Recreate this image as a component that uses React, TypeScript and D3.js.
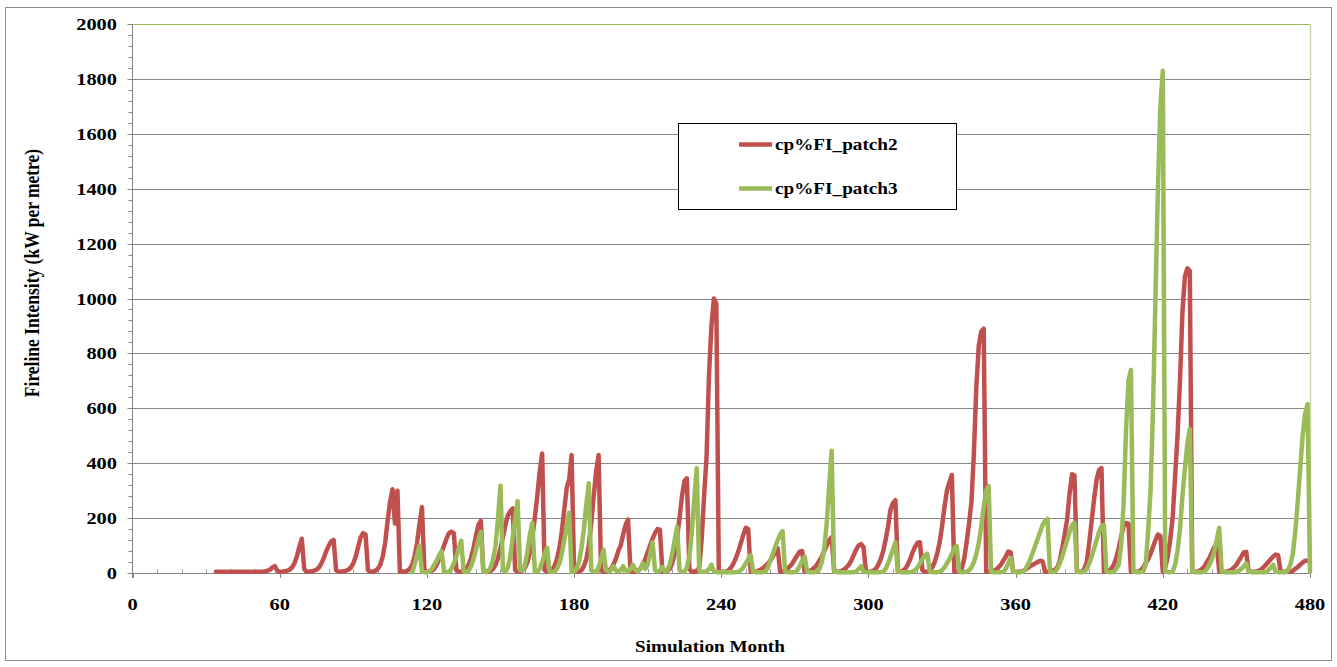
import React from "react";
import * as d3 from "d3";

// Monthly fireline intensity (kW per metre), one value per month from the start month.
const patch2Start = 34;
const patch2Values = [
  // 34–45
  5, 5, 5, 5, 5, 5, 5, 5, 5, 5, 5, 5,
  // 46–57
  5, 5, 5, 5, 5, 5, 5, 5, 6, 8, 12, 20,
  // 58–69
  25, 8, 5, 5, 6, 8, 12, 20, 35, 60, 95, 125,
  // 70–81
  15, 5, 5, 6, 8, 12, 20, 35, 55, 80, 100, 115,
  // 82–93
  120, 10, 5, 5, 6, 8, 12, 20, 35, 60, 95, 130,
  // 94–105
  145, 140, 10, 5, 5, 8, 15, 30, 60, 110, 190, 260,
  // 106–117
  305, 180, 300, 5, 5, 5, 8, 15, 30, 60, 110, 180,
  // 118–129
  240, 10, 5, 5, 8, 15, 30, 50, 75, 100, 125, 145,
  // 130–141
  150, 145, 10, 5, 5, 8, 15, 30, 55, 90, 135, 175,
  // 142–153
  190, 10, 5, 5, 8, 15, 30, 55, 90, 130, 175, 210,
  // 154–165
  225, 235, 10, 5, 5, 10, 20, 40, 75, 130, 200, 280,
  // 166–177
  370, 435, 10, 5, 5, 10, 25, 50, 90, 150, 230, 310,
  // 178–189
  340, 430, 10, 5, 5, 10, 25, 50, 100, 180, 280, 370,
  // 190–201
  430, 10, 5, 5, 8, 15, 30, 50, 80, 100, 140, 175,
  // 202–213
  195, 5, 5, 5, 8, 15, 30, 50, 75, 100, 125, 145,
  // 214–225
  160, 158, 5, 5, 8, 15, 35, 70, 130, 200, 280, 335,
  // 226–237
  345, 15, 5, 5, 8, 20, 120, 280, 420, 720, 900, 1000,
  // 238–249
  980, 5, 5, 5, 5, 10, 20, 35, 55, 80, 110, 140,
  // 250–261
  165, 160, 5, 5, 5, 8, 12, 18, 25, 35, 45, 60,
  // 262–273
  75, 90, 5, 5, 8, 15, 25, 35, 50, 65, 78, 80,
  // 274–285
  5, 5, 8, 12, 20, 30, 45, 60, 80, 100, 120, 130,
  // 286–297
  10, 5, 5, 8, 12, 20, 30, 45, 65, 85, 100, 105,
  // 298–309
  95, 5, 5, 5, 8, 15, 30, 50, 80, 120, 170, 230,
  // 310–321
  255, 265, 5, 5, 8, 15, 30, 50, 75, 95, 110, 112,
  // 322–333
  10, 5, 5, 10, 20, 40, 70, 110, 170, 240, 300, 330,
  // 334–345
  357, 5, 5, 5, 15, 50, 110, 180, 260, 440, 680, 830,
  // 346–357
  880, 890, 5, 5, 5, 8, 12, 20, 30, 45, 60, 78,
  // 358–369
  75, 5, 5, 5, 5, 8, 12, 18, 25, 30, 35, 40,
  // 370–381
  45, 42, 5, 5, 5, 8, 12, 20, 45, 90, 140, 195,
  // 382–393
  290, 360, 355, 5, 5, 5, 15, 40, 110, 190, 270, 340,
  // 394–405
  375, 382, 5, 5, 8, 15, 30, 55, 90, 130, 170, 182,
  // 406–417
  180, 5, 5, 5, 5, 10, 20, 35, 50, 70, 95, 120,
  // 418–429
  140, 135, 5, 20, 60, 120, 200, 350, 500, 700, 950, 1080,
  // 430–441
  1110, 1100, 5, 5, 5, 8, 15, 25, 40, 55, 75, 95,
  // 442–453
  102, 5, 5, 5, 5, 8, 12, 20, 30, 45, 60, 75,
  // 454–465
  77, 5, 5, 5, 5, 8, 12, 20, 30, 40, 50, 60,
  // 466–477
  67, 65, 5, 5, 5, 5, 5, 8, 15, 22, 30, 38,
  // 478–480
  45, 45, 40,
];

const patch3Start = 114;
const patch3Values = [
  // 114–125
  3, 30, 65, 100, 5, 3, 3, 5, 15, 30, 45, 65,
  // 126–137
  80, 5, 3, 5, 15, 35, 60, 90, 118, 5, 3, 8,
  // 138–149
  25, 50, 85, 120, 150, 5, 3, 8, 20, 50, 100, 200,
  // 150–161
  318, 10, 5, 20, 60, 130, 200, 262, 10, 10, 30, 80,
  // 162–173
  140, 183, 5, 5, 15, 40, 70, 92, 5, 3, 5, 15,
  // 174–185
  35, 70, 120, 170, 220, 5, 5, 15, 40, 90, 160, 250,
  // 186–197
  327, 10, 5, 5, 20, 50, 85, 10, 5, 10, 25, 10,
  // 198–209
  5, 10, 25, 10, 5, 15, 30, 10, 5, 15, 35, 15,
  // 210–221
  30, 70, 112, 10, 5, 10, 22, 5, 10, 30, 70, 120,
  // 222–233
  168, 10, 5, 5, 20, 60, 150, 270, 382, 10, 5, 5,
  // 234–245
  5, 15, 30, 5, 3, 3, 3, 3, 3, 3, 3, 3,
  // 246–257
  3, 5, 10, 20, 35, 50, 65, 5, 3, 3, 3, 3,
  // 258–269
  5, 20, 45, 70, 95, 120, 140, 153, 5, 3, 3, 3,
  // 270–281
  3, 10, 25, 45, 60, 5, 3, 3, 3, 5, 15, 40,
  // 282–293
  90, 180, 320, 445, 5, 3, 3, 3, 3, 3, 3, 3,
  // 294–305
  3, 5, 15, 25, 5, 3, 3, 3, 3, 3, 3, 3,
  // 306–317
  5, 15, 35, 60, 85, 112, 5, 3, 3, 3, 3, 3,
  // 318–329
  5, 10, 20, 35, 50, 65, 70, 5, 3, 3, 3, 5,
  // 330–341
  10, 20, 35, 50, 70, 90, 98, 5, 3, 3, 5, 10,
  // 342–353
  20, 40, 70, 110, 170, 240, 300, 317, 5, 3, 3, 3,
  // 354–365
  3, 5, 15, 35, 55, 5, 3, 3, 3, 5, 15, 30,
  // 366–377
  50, 75, 100, 125, 150, 175, 190, 197, 5, 3, 5, 15,
  // 378–389
  35, 60, 90, 120, 150, 175, 183, 5, 3, 3, 5, 15,
  // 390–401
  35, 60, 90, 120, 150, 170, 175, 5, 3, 3, 5, 15,
  // 402–413
  30, 100, 250, 520, 700, 740, 5, 3, 3, 3, 5, 30,
  // 414–425
  150, 300, 600, 1000, 1400, 1700, 1830, 5, 3, 3, 5, 30,
  // 426–437
  80, 160, 280, 380, 470, 525, 5, 3, 3, 3, 3, 5,
  // 438–449
  15, 30, 50, 80, 120, 165, 5, 3, 3, 3, 3, 3,
  // 450–461
  3, 8, 15, 25, 35, 5, 3, 3, 3, 3, 3, 3,
  // 462–473
  3, 10, 20, 30, 5, 3, 3, 3, 3, 10, 30, 70,
  // 474–480
  150, 260, 380, 500, 580, 615, 5,
];

const seriesNames = ["cp%FI_patch2", "cp%FI_patch3"];
const seriesColors = ["#C0504D", "#9BBB59"];
const yTicks = [0, 200, 400, 600, 800, 1000, 1200, 1400, 1600, 1800, 2000];
const xTicks = [0, 60, 120, 180, 240, 300, 360, 420, 480];
const xTitle = "Simulation Month";
const yTitle = "Fireline Intensity (kW per metre)";

type Pt = { m: number; v: number };
const toPoints = (start: number, vals: number[]): Pt[] =>
  vals.map((v, i) => ({ m: start + i, v }));

const W = 1337;
const H = 667;
const left = 132.5;
const right = 1310;
const top = 24;
const bottom = 573;

const FONT = "'Liberation Serif', 'Times New Roman', serif";
const SX = 1.2; // horizontal stretch of the lettering

export default function App() {
  const x = d3.scaleLinear().domain([0, 480]).range([left, right]);
  const y = d3.scaleLinear().domain([0, 2000]).range([bottom, top]);
  const line = d3
    .line<Pt>()
    .x((d) => x(d.m))
    .y((d) => y(d.v));

  const series = [
    toPoints(patch2Start, patch2Values),
    toPoints(patch3Start, patch3Values),
  ];

  const yMinor = d3.range(0, 2000, 40).filter((v) => v % 200 !== 0);
  const xMinor = d3.range(0, 480, 10).filter((v) => v % 60 !== 0);

  const legX = 678.5;
  const legY = 123.5;
  const legW = 278;
  const legH = 86;

  return (
    <svg
      width={W}
      height={H}
      style={{ position: "absolute", left: 0, top: 0, background: "#fff" }}
      fontFamily={FONT}
    >
      <rect x={0} y={0} width={W} height={H} fill="#fff" />
      {/* chart frame */}
      <rect x={5.5} y={7.5} width={1326} height={653} fill="none" stroke="#8c8c8c" strokeWidth={1} />

      {/* gridlines */}
      {yTicks
        .filter((t) => t > 0 && t < 2000)
        .map((t) => (
          <line key={"g" + t} x1={left} x2={right} y1={Math.round(y(t)) + 0.5} y2={Math.round(y(t)) + 0.5} stroke="#868686" strokeWidth={1} />
        ))}
      {/* plot area top / right edges */}
      <line x1={left} x2={right} y1={top + 0.5} y2={top + 0.5} stroke="#9BBB59" strokeWidth={1} />
      <line x1={right + 0.5} x2={right + 0.5} y1={top} y2={bottom} stroke="#c9dba6" strokeWidth={1.5} />

      {/* y axis */}
      <line x1={left} x2={left} y1={top} y2={bottom + 5} stroke="#868686" strokeWidth={1} />
      {yTicks.map((t) => (
        <line key={"yt" + t} x1={left - 5} x2={left} y1={Math.round(y(t)) + 0.5} y2={Math.round(y(t)) + 0.5} stroke="#868686" />
      ))}
      {yMinor.map((t) => (
        <line key={"ym" + t} x1={left - 4} x2={left} y1={Math.round(y(t)) + 0.5} y2={Math.round(y(t)) + 0.5} stroke="#868686" />
      ))}
      {yTicks.map((t) => (
        <text
          key={"yl" + t}
          transform={`translate(${117},${y(t) + 6}) scale(${SX},1)`}
          textAnchor="end"
          fontSize={17}
          fontWeight="bold"
          fill="#000"
        >
          {t}
        </text>
      ))}

      {/* x axis */}
      <line x1={left} x2={right} y1={bottom + 0.5} y2={bottom + 0.5} stroke="#868686" strokeWidth={1} />
      {xTicks.map((t) => (
        <line key={"xt" + t} x1={Math.round(x(t)) + 0.5} x2={Math.round(x(t)) + 0.5} y1={bottom} y2={bottom + 5} stroke="#868686" />
      ))}
      {xMinor.map((t) => (
        <line key={"xm" + t} x1={Math.round(x(t)) + 0.5} x2={Math.round(x(t)) + 0.5} y1={bottom - 4} y2={bottom} stroke="#a0a0a0" />
      ))}
      {xTicks.map((t) => (
        <text
          key={"xl" + t}
          transform={`translate(${x(t)},${610}) scale(${SX},1)`}
          textAnchor="middle"
          fontSize={17}
          fontWeight="bold"
          fill="#000"
        >
          {t}
        </text>
      ))}

      {/* series */}
      {series.map((pts, i) => (
        <path
          key={seriesNames[i]}
          d={line(pts) || ""}
          fill="none"
          stroke={seriesColors[i]}
          strokeWidth={4.5}
          strokeLinejoin="round"
          strokeLinecap="round"
        />
      ))}

      {/* legend */}
      <rect x={legX} y={legY} width={legW} height={legH} fill="#fff" stroke="#000" strokeWidth={1} />
      {seriesNames.map((name, i) => {
        const ly = legY + 21 + i * 44;
        return (
          <g key={"lg" + name}>
            <line x1={739} x2={772} y1={ly} y2={ly} stroke={seriesColors[i]} strokeWidth={4.5} />
            <text
              transform={`translate(${775},${ly + 5.5}) scale(${SX},1)`}
              fontSize={16}
              fontWeight="bold"
              fill="#000"
            >
              {name}
            </text>
          </g>
        );
      })}

      {/* axis titles */}
      <text
        transform={`translate(${710},${652}) scale(${SX},1)`}
        textAnchor="middle"
        fontSize={16}
        fontWeight="bold"
        fill="#000"
      >
        {xTitle}
      </text>
      <text
        transform={`translate(${39},${273}) scale(${SX},1) rotate(-90)`}
        textAnchor="middle"
        fontSize={17.5}
        fontWeight="bold"
        fill="#000"
      >
        {yTitle}
      </text>
    </svg>
  );
}
